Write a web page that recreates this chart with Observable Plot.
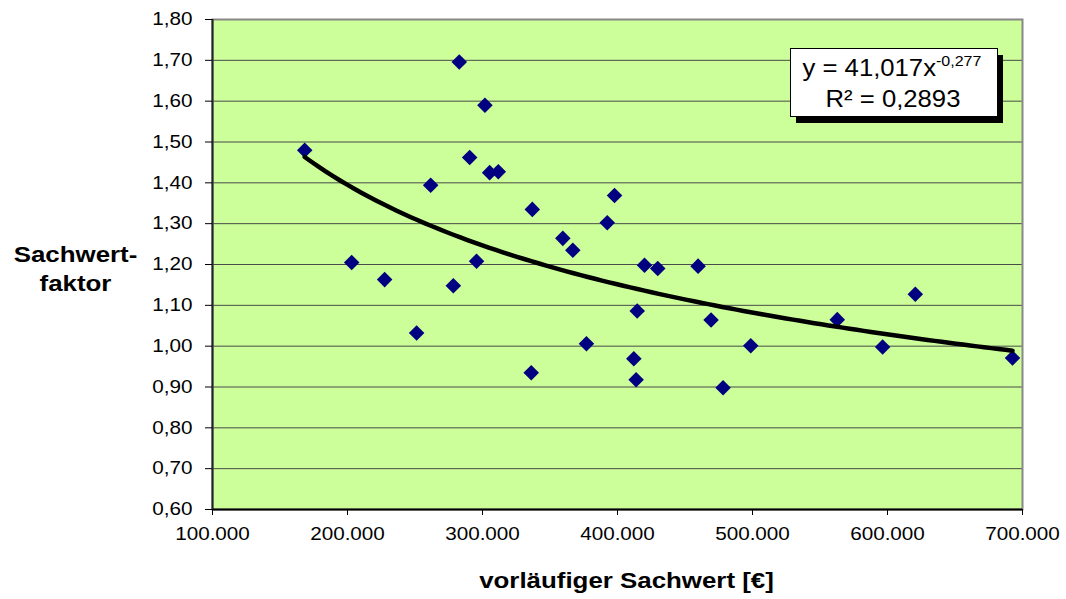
<!DOCTYPE html>
<html><head><meta charset="utf-8">
<script src="https://cdn.jsdelivr.net/npm/d3@7"></script>
<script src="https://cdn.jsdelivr.net/npm/@observablehq/plot@0.6"></script>
<style>
html,body{margin:0;padding:0;background:#fff;}
#chart{width:1066px;height:599px;}
</style></head>
<body><div id="chart"></div>
<script>
// vorläufiger Sachwert [€]
const sachwert = [168300, 203100, 227500, 251200, 261600, 278400, 282800, 290500, 295600, 301800, 305300, 311700,
  336100, 336900, 359500, 366900, 377000, 392400, 397800, 412100, 413800, 414600, 420000, 429800,
  459700, 469300, 478200, 498700, 562800, 596400, 620600, 692600];
// Sachwertfaktor
const faktor = [1.480, 1.205, 1.163, 1.032, 1.394, 1.148, 1.696, 1.462, 1.208, 1.590, 1.425, 1.427,
  0.935, 1.335, 1.264, 1.235, 1.006, 1.302, 1.369, 0.969, 0.918, 1.086, 1.198, 1.190,
  1.196, 1.064, 0.898, 1.001, 1.065, 0.998, 1.127, 0.971];
const xTicks = [100000, 200000, 300000, 400000, 500000, 600000, 700000];
const yTicks = [0.6, 0.7, 0.8, 0.9, 1.0, 1.1, 1.2, 1.3, 1.4, 1.5, 1.6, 1.7, 1.8];
// Potenz-Trendlinie (Excel): y = a * x^b
const trendA = 41.017;
const trendB = -0.277;
const trendLabel1 = "y = 41,017x";
const trendLabelSup = "-0,277";
const trendLabel2 = "R² = 0,2893";
const yTitle = "Sachwert-\nfaktor";
const xTitle = "vorläufiger Sachwert [€]";

const de = d3.formatLocale({decimal: ",", thousands: ".", grouping: [3], currency: ["", " €"]});
const fmtX = de.format(",.0f");
const fmtY = de.format(".2f");

const points = sachwert.map((x, i) => ({x, y: faktor[i]}));
const xMin = d3.min(sachwert), xMax = d3.max(sachwert);
const trend = d3.range(0, 101).map(k => {
  const x = xMin + (xMax - xMin) * k / 100;
  return {x, y: trendA * Math.pow(x, trendB)};
});

const FONT = "'Liberation Sans', Arial, sans-serif";

const chart = Plot.plot({
  width: 1066, height: 599,
  marginLeft: 212, marginRight: 44, marginTop: 19, marginBottom: 90,
  style: {fontFamily: FONT, fontSize: "18px", color: "#000", background: "#fff", overflow: "visible"},
  x: {domain: [100000, 700000], axis: null},
  y: {domain: [0.6, 1.8], axis: null},
  marks: [
    Plot.frame({fill: "#ccff99", stroke: "none"}),
    Plot.gridY(yTicks, {stroke: "#4a4a4a", strokeOpacity: 1, strokeWidth: 1}),
    Plot.frame({stroke: "#888", strokeWidth: 2}),
    Plot.ruleY([0.6], {stroke: "#000", strokeWidth: 2}),
    Plot.ruleX([100000], {stroke: "#222", strokeWidth: 2}),
    Plot.axisX(xTicks, {tickFormat: fmtX, tickSize: 6, tickPadding: 12, label: null, fontSize: 18}),
    Plot.axisY(yTicks, {tickFormat: fmtY, tickSize: 7, tickPadding: 13, label: null, fontSize: 18}),
    Plot.dot(points, {x: "x", y: "y", symbol: "diamond2", r: 7, fill: "#000080", stroke: "none"}),
    Plot.line(trend, {x: "x", y: "y", stroke: "#000", strokeWidth: 4.5, curve: "linear"}),
    Plot.text([yTitle], {text: d => d, frameAnchor: "left", dx: -137, dy: 3, fontWeight: "bold", fontSize: 22.5, lineHeight: 1.25, textAnchor: "middle"}),
    Plot.text([xTitle], {text: d => d, frameAnchor: "bottom", dx: 9, dy: 78, lineAnchor: "bottom", fontWeight: "bold", fontSize: 22.5, textAnchor: "middle"})
  ]
});

document.getElementById("chart").appendChild(chart);

// horizontal stretch of plot text (original rendering is wider than Arial)
function stretch(el, k) {
  const x = +(el.getAttribute("x") || 0);
  const t = el.getAttribute("transform") || "";
  el.setAttribute("transform", `${t} translate(${x},0) scale(${k},1) translate(${-x},0)`.trim());
}
chart.querySelectorAll("text").forEach(el => stretch(el, 1.15));

// Trendline equation box
const svg = d3.select(chart);
const g = svg.append("g").attr("font-family", FONT).attr("font-size", 24).attr("fill", "#000");
g.append("rect").attr("x", 796).attr("y", 55).attr("width", 207).attr("height", 68).attr("fill", "#000");
g.append("rect").attr("x", 790.5).attr("y", 48.5).attr("width", 207).attr("height", 68)
  .attr("fill", "#fff").attr("stroke", "#000").attr("stroke-width", 1);
const t1 = g.append("text").attr("x", 892).attr("y", 76).attr("text-anchor", "middle");
t1.append("tspan").text(trendLabel1);
t1.append("tspan").attr("font-size", 15).attr("dy", -10).text(trendLabelSup);
const t2 = g.append("text").attr("x", 893).attr("y", 107).attr("text-anchor", "middle").text(trendLabel2);
stretch(t1.node(), 1.07);
stretch(t2.node(), 1.07);
</script>
</body></html>
